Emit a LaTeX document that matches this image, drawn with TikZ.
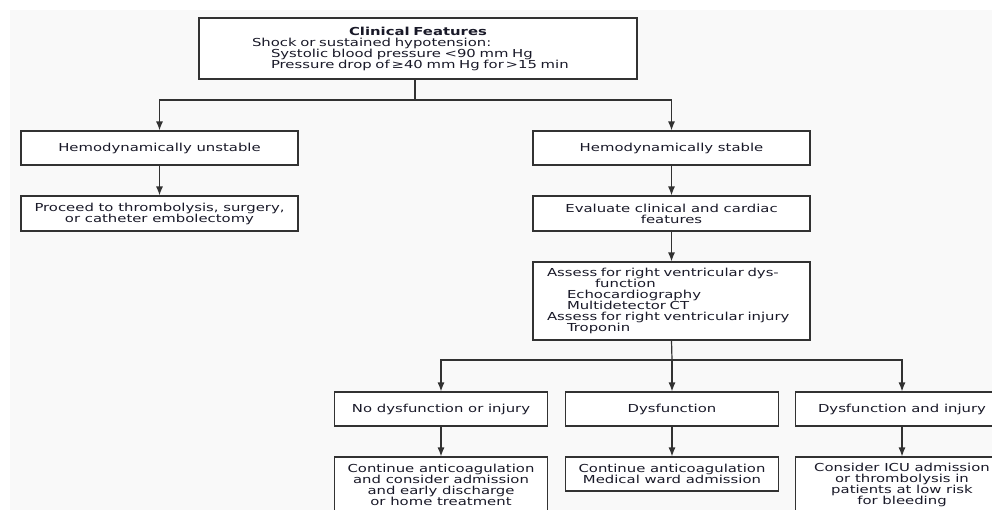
\documentclass[tikz,border=0pt]{standalone}
\usepackage{fontspec}
\setmainfont[FakeStretch=1.35]{DejaVu Sans}
\usepackage{tikz}
\usetikzlibrary{arrows.meta}
\definecolor{ink}{RGB}{25, 25, 40}
\definecolor{boxline}{RGB}{50, 50, 50}
\definecolor{paper}{RGB}{249, 249, 249}

\begin{document}
\begin{tikzpicture}[x=1pt,y=-1pt]
                \useasboundingbox (0,0) rectangle (992,510);
                \clip (0,0) rectangle (992,510);
                \fill[white] (0,0) rectangle (992,510);
                \fill[paper] (10,10) rectangle (992,510);

                \tikzstyle{box}=[rectangle, draw=boxline, line width=1.1pt, fill=white, text=ink, inner sep=0pt, align=center, font=\fontsize{11}{11}\selectfont]
                \tikzstyle{wide}=[box, minimum width=277pt, minimum height=34pt]
                \tikzstyle{narrow}=[box, minimum width=213pt, minimum height=34pt]

                \node[box, align=left, text width=438pt, minimum height=61pt] (feat) at (418,48.5) {\makebox[\linewidth]{\textbf{Clinical Features}}\\
                    \hspace*{53pt}Shock or sustained hypotension:\\
                    \hspace*{72pt}Systolic blood pressure <90 mm Hg\\
                    \hspace*{72pt}Pressure drop of\,≥40 mm Hg for\,>15 min};
                \node[wide] (unst) at (159.5,148) {Hemodynamically unstable};
                \node[wide] (stab) at (671.5,148) {Hemodynamically stable};
                \node[wide, minimum height=35pt] (proc) at (159.5,213.5) {Proceed to thrombolysis, surgery,\\or catheter embolectomy};
                \node[wide, minimum height=35pt] (eval) at (671.5,213.5) {Evaluate clinical and cardiac\\features};
                \node[box, align=left, text width=277pt, minimum height=78pt] (assess) at (671.5,301) {\hspace*{14pt}Assess for right ventricular dys-\\
                    \hspace*{62pt}function\\
                    \hspace*{34pt}Echocardiography\\
                    \hspace*{34pt}Multidetector CT\\
                    \hspace*{14pt}Assess for right ventricular injury\\
                    \hspace*{34pt}Troponin};
                \node[narrow] (none) at (441,409) {No dysfunction or injury};
                \node[narrow] (dysf) at (672,409) {Dysfunction};
                \node[narrow] (dinj) at (902,409) {Dysfunction and injury};
                \node[narrow, minimum height=56pt] (cont) at (441,485) {Continue anticoagulation\\and consider admission\\and early discharge\\or home treatment};
                \node[narrow] (ward) at (672,474) {Continue anticoagulation\\Medical ward admission};
                \node[narrow, minimum height=56pt] (icu) at (902,485) {Consider ICU admission\\or thrombolysis in\\patients at low risk\\for bleeding};

                \tikzstyle{link}=[draw=boxline, line width=1.2pt]
                \tikzstyle{bind}=[link, ->, >={Latex[length=9pt,width=7pt]}]

                \coordinate (sp1) at (415,100);
                \coordinate (sp2) at (672,360);
                \draw[link] (feat.south -| sp1) -- (sp1);
                \draw[bind] (sp1) -| (unst.north);
                \draw[bind] (sp1) -| (stab.north);
                \draw[bind] (unst) -- (proc);
                \draw[bind] (stab) -- (eval);
                \draw[bind] (eval) -- (assess);
                \draw[link] (assess.south) -- (sp2);
                \draw[bind] (sp2) -| (none.north);
                \draw[bind] (sp2) -- (dysf.north);
                \draw[bind] (sp2) -| (dinj.north);
                \draw[bind] (none) -- (cont);
                \draw[bind] (dysf) -- (ward);
                \draw[bind] (dinj) -- (icu);
            \end{tikzpicture}
\end{document}
